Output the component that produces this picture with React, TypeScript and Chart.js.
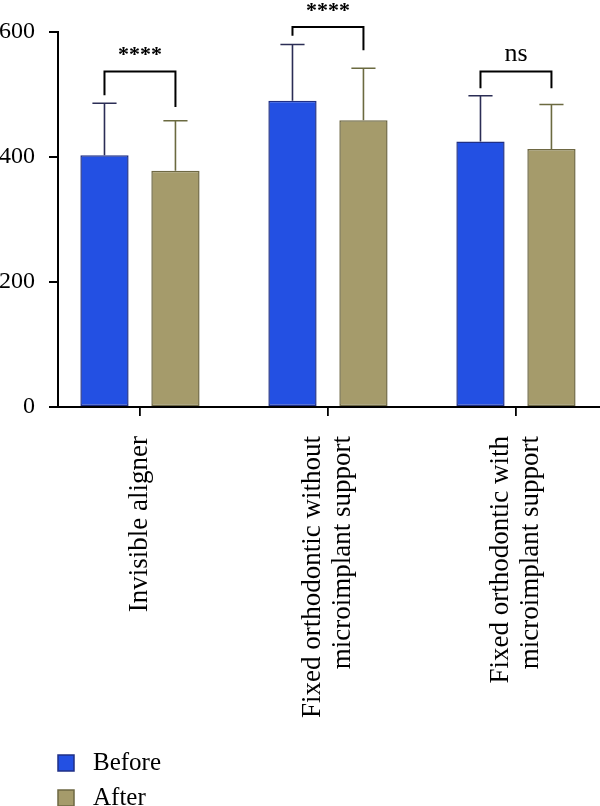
import React, { useEffect, useRef } from 'react';
import { Chart, registerables } from 'chart.js';

Chart.register(...registerables);

// ---- data ----
const categories: string[][] = [
  ['Invisible aligner'],
  ['Fixed orthodontic without', 'microimplant support'],
  ['Fixed orthodontic with', 'microimplant support'],
];
const categoryIndex = [0, 1, 2];
const seriesNames = ['Before', 'After'];
const beforeValues = [403, 490, 425];
const afterValues = [378, 459, 413];
const beforeSD = [83, 90, 73];
const afterSD = [80, 83, 71];
const sigLabels = ['****', '****', 'ns'];
const bracketTop = [537, 608, 537];
const bracketLeftEnd = [499, 594, 510];
const bracketRightEnd = [480, 571, 510];
const yTicks = [0, 200, 400, 600];
const xMin = -0.436;
const xMax = 2.447;

// ---- style ----
const FONT = '"Liberation Serif", "Times New Roman", serif';
const BLUE = '#2350e3';
const BLUE_BORDER = '#1f2f86';
const BLUE_ERR = '#2b2d55';
const KHAKI = '#a59b6b';
const KHAKI_BORDER = '#6e6843';
const KHAKI_ERR = '#6b6a40';

const errorBarPlugin = {
  id: 'errorBars',
  afterDatasetsDraw(chart: any) {
    const ctx = chart.ctx;
    const ys = chart.scales.y;
    chart.data.datasets.forEach((ds: any, d: number) => {
      const meta = chart.getDatasetMeta(d);
      meta.data.forEach((bar: any, j: number) => {
        const v = ds.data[j].y;
        const e = ds.errors[j];
        const yTop = ys.getPixelForValue(v + e);
        const cap = bar.width * 0.5;
        ctx.save();
        ctx.strokeStyle = ds.errorColor;
        ctx.lineWidth = 1.6;
        ctx.beginPath();
        ctx.moveTo(bar.x, bar.y);
        ctx.lineTo(bar.x, yTop);
        ctx.moveTo(bar.x - cap / 2, yTop);
        ctx.lineTo(bar.x + cap / 2, yTop);
        ctx.stroke();
        ctx.restore();
      });
    });
  },
};

const annotationPlugin = {
  id: 'annotations',
  afterDraw(chart: any) {
    const ctx = chart.ctx;
    const xs = chart.scales.x;
    const ys = chart.scales.y;
    const m0 = chart.getDatasetMeta(0);
    const m1 = chart.getDatasetMeta(1);

    // significance brackets
    sigLabels.forEach((lab, i) => {
      const xl = m0.data[i].x;
      const xr = m1.data[i].x;
      const yt = ys.getPixelForValue(bracketTop[i]);
      const yl = ys.getPixelForValue(bracketLeftEnd[i]);
      const yr = ys.getPixelForValue(bracketRightEnd[i]);
      ctx.save();
      ctx.strokeStyle = '#000';
      ctx.lineWidth = 2;
      ctx.beginPath();
      ctx.moveTo(xl, yl);
      ctx.lineTo(xl, yt);
      ctx.lineTo(xr, yt);
      ctx.lineTo(xr, yr);
      ctx.stroke();
      ctx.fillStyle = '#000';
      ctx.textAlign = 'center';
      ctx.textBaseline = 'alphabetic';
      ctx.font = lab === 'ns' ? `26px ${FONT}` : `bold 22px ${FONT}`;
      ctx.fillText(lab, (xl + xr) / 2, yt - 10);
      ctx.restore();
    });

    // x category labels (rotated, multi-line centred on tick)
    ctx.save();
    ctx.fillStyle = '#000';
    ctx.font = `27px ${FONT}`;
    ctx.textAlign = 'right';
    ctx.textBaseline = 'middle';
    const lh = 30;
    categoryIndex.forEach((v, i) => {
      const px = xs.getPixelForValue(v);
      const lines = categories[i];
      lines.forEach((line, j) => {
        const cx = px + (j - (lines.length - 1) / 2) * lh;
        ctx.save();
        ctx.translate(cx, xs.top + 29);
        ctx.rotate(-Math.PI / 2);
        ctx.fillText(line, 0, 0);
        ctx.restore();
      });
    });
    ctx.restore();

    // legend (vertical, bottom-left)
    ctx.save();
    ctx.font = `25px ${FONT}`;
    ctx.textAlign = 'left';
    ctx.textBaseline = 'middle';
    chart.data.datasets.forEach((ds: any, d: number) => {
      const bx = chart.chartArea.left;
      const by = chart.height - 51 + d * 35;
      ctx.fillStyle = ds.backgroundColor;
      ctx.fillRect(bx, by, 16, 16);
      ctx.strokeStyle = ds.borderColor;
      ctx.lineWidth = 1.5;
      ctx.strokeRect(bx, by, 16, 16);
      ctx.fillStyle = '#000';
      ctx.fillText(ds.label, bx + 35, by + 8);
    });
    ctx.restore();
  },
};

export default function App() {
  const ref = useRef<HTMLCanvasElement>(null);

  useEffect(() => {
    if (!ref.current) return;
    const chart = new Chart(ref.current, {
      type: 'bar',
      data: {
        datasets: [
          {
            label: seriesNames[0],
            data: categoryIndex.map((x, i) => ({ x, y: beforeValues[i] })),
            backgroundColor: BLUE,
            borderColor: BLUE_BORDER,
            borderWidth: 1.5,
            borderSkipped: false,
            errors: beforeSD,
            errorColor: BLUE_ERR,
          } as any,
          {
            label: seriesNames[1],
            data: categoryIndex.map((x, i) => ({ x, y: afterValues[i] })),
            backgroundColor: KHAKI,
            borderColor: KHAKI_BORDER,
            borderWidth: 1.5,
            borderSkipped: false,
            errors: afterSD,
            errorColor: KHAKI_ERR,
          } as any,
        ],
      },
      options: {
        animation: false,
        responsive: false,
        devicePixelRatio: 1,
        categoryPercentage: 0.755,
        barPercentage: 0.68,
        layout: { padding: { top: 32, left: 0, right: 0, bottom: 0 } },
        plugins: {
          legend: { display: false },
          tooltip: { enabled: false },
        },
        scales: {
          x: {
            type: 'linear',
            min: xMin,
            max: xMax,
            offset: false,
            afterBuildTicks: (s: any) => {
              s.ticks = categoryIndex.map((v) => ({ value: v }));
            },
            afterFit: (s: any) => {
              s.height = 399;
            },
            ticks: { display: false },
            grid: {
              offset: false,
              drawOnChartArea: false,
              drawTicks: true,
              tickLength: 9,
              color: '#000',
              lineWidth: 1.8,
            },
            border: { display: true, color: '#000', width: 2 },
          },
          y: {
            type: 'linear',
            min: 0,
            max: 600,
            afterBuildTicks: (s: any) => {
              s.ticks = yTicks.map((v) => ({ value: v }));
            },
            afterFit: (s: any) => {
              s.width = 58;
            },
            ticks: {
              color: '#000',
              padding: 14,
              font: { family: FONT, size: 24 },
            },
            grid: {
              drawOnChartArea: false,
              drawTicks: true,
              tickLength: 9,
              color: '#000',
              lineWidth: 2,
            },
            border: { display: true, color: '#000', width: 2 },
          },
        },
      } as any,
      plugins: [errorBarPlugin, annotationPlugin],
    });
    return () => chart.destroy();
  }, []);

  return (
    <div style={{ position: 'absolute', left: 0, top: 0, width: 600, height: 806, background: '#fff' }}>
      <canvas ref={ref} width={600} height={806} style={{ display: 'block' }} />
    </div>
  );
}
